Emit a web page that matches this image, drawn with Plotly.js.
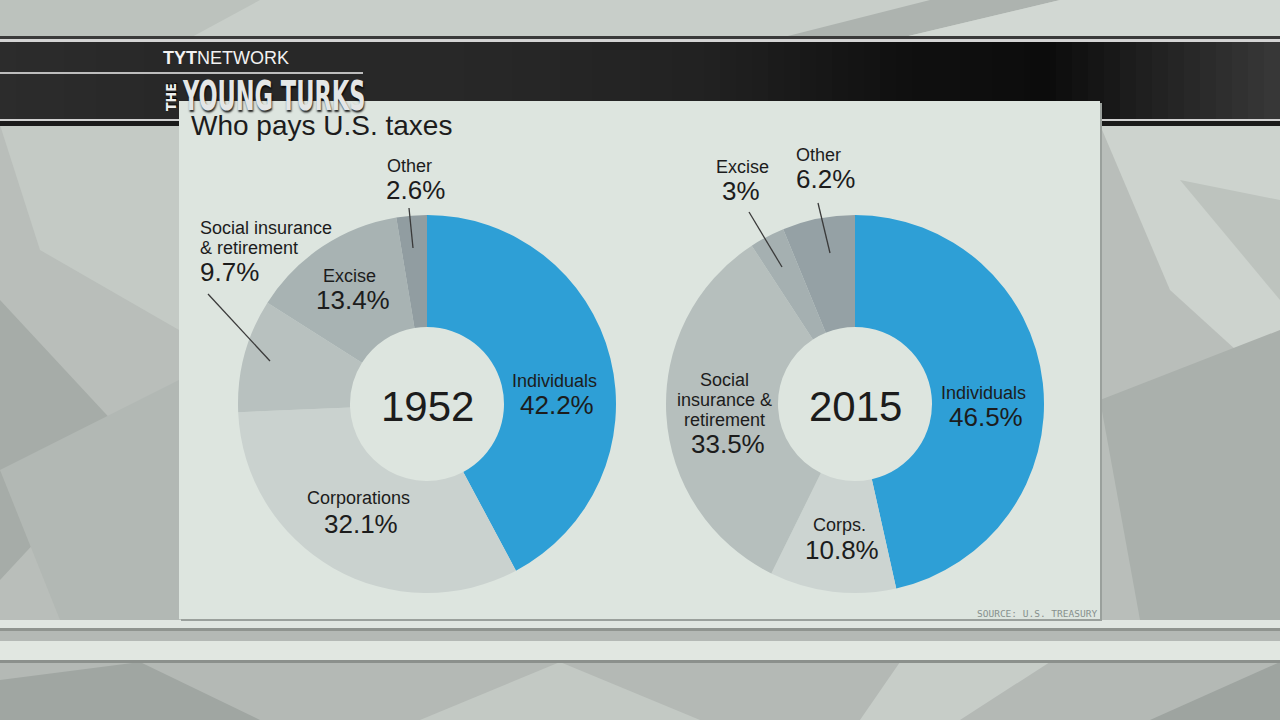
<!DOCTYPE html>
<html><head><meta charset="utf-8">
<script src="https://cdn.plot.ly/plotly-3.0.1.min.js"></script>
<style>html,body{margin:0;padding:0;background:#b9beba;}#chart{width:1280px;height:720px;}</style>
</head><body><div id="chart"></div>
<script>
// ---------------- DATA ----------------
const chartTitle = 'Who pays U.S. taxes';
const years = ['1952', '2015'];
const categories1952 = ['Individuals', 'Corporations', 'Social insurance & retirement', 'Excise', 'Other'];
const values1952 = [42.2, 32.1, 9.7, 13.4, 2.6];
const labelLines1952 = [['Individuals'], ['Corporations'], ['Social insurance', '& retirement'], ['Excise'], ['Other']];
const categories2015 = ['Individuals', 'Corps.', 'Social insurance & retirement', 'Excise', 'Other'];
const values2015 = [46.5, 10.8, 33.5, 3, 6.2];
const labelLines2015 = [['Individuals'], ['Corps.'], ['Social', 'insurance &', 'retirement'], ['Excise'], ['Other']];
const sourceText = 'SOURCE: U.S. TREASURY';

// ---------------- STYLE / LAYOUT ----------------
const W = 1280, H = 720;
const FONT = '"Liberation Sans", Arial, Helvetica, sans-serif';
const COND = '"DejaVu Sans Condensed", "Liberation Sans Narrow", sans-serif';
const INK = '#1c1c1c';
const colors1952 = ['#2e9fd6', '#cad2cf', '#b8c1bf', '#a8b3b3', '#919da1'];
const colors2015 = ['#2e9fd6', '#ccd4d1', '#b6bfbd', '#a5b0b1', '#95a1a5'];
const px = x => x / W;
const py = y => 1 - y / H;

const pies = [
  {cx: 427, cy: 404, r: 189},
  {cx: 855, cy: 404, r: 189}
];
const holeFrac = 77 / 189;

// label placement (pixels): [nameX, nameY(first line), valueX, valueY, anchor]
const place1952 = [
  [554, 381, 557, 405, 'center'],
  [358, 498, 361, 524, 'center'],
  [198, 228, 198, 272, 'left'],
  [349, 276, 353, 300, 'center'],
  [409, 166, 415, 190, 'center']
];
const place2015 = [
  [983, 393, 986, 417, 'center'],
  [839, 525, 842, 550, 'center'],
  [724, 380, 728, 444, 'center'],
  [742, 167, 741, 191, 'center'],
  [818, 155, 825, 179, 'center']
];
const leaders = [
  [409, 208, 413, 248],
  [208, 294, 270, 361],
  [749, 212, 782, 267],
  [818, 203, 830, 253]
];

function pieTrace(cats, vals, cols, g) {
  return {
    type: 'pie', labels: cats, values: vals, sort: false, direction: 'clockwise', rotation: 0,
    hole: holeFrac, textinfo: 'none', hoverinfo: 'none', showlegend: false,
    marker: {colors: cols, line: {width: 0}},
    domain: {x: [px(g.cx - g.r), px(g.cx + g.r)], y: [py(g.cy + g.r), py(g.cy - g.r)]}
  };
}

function ann(x, y, text, size, extra) {
  return Object.assign({
    xref: 'paper', yref: 'paper', x: px(x), y: py(y), text: text, showarrow: false,
    font: {family: FONT, size: size, color: INK}, xanchor: 'center', yanchor: 'middle'
  }, extra || {});
}

const annotations = [];
function addLabels(lines, vals, place) {
  lines.forEach((ls, i) => {
    const p = place[i];
    ls.forEach((t, k) => annotations.push(ann(p[0], p[1] + k * 20, t, 18, {xanchor: p[4]})));
    annotations.push(ann(p[2], p[3], String(vals[i]) + '%', 26, {xanchor: p[4]}));
  });
}
addLabels(labelLines1952, values1952, place1952);
addLabels(labelLines2015, values2015, place2015);
annotations.push(ann(pies[0].cx, pies[0].cy + 2, years[0], 42));
annotations.push(ann(pies[1].cx, pies[1].cy + 2, years[1], 42));
annotations.push(ann(189, 125, chartTitle, 28, {xanchor: 'left'}));
annotations.push(ann(1099, 613, sourceText, 9.5, {xanchor: 'right', font: {family: '"DejaVu Sans Mono", monospace', size: 9.5, color: '#87908d'}}));
// branding
annotations.push(ann(161, 58, '<b>TYT</b>NETWORK', 18, {xanchor: 'left', font: {family: FONT, size: 18, color: '#f2f2f2'}}));
annotations.push(ann(171, 97, 'THE', 14, {textangle: -90, font: {family: COND, size: 14, weight: 'bold', color: '#eeeeee', shadow: '1px 1px 1px #000'}}));
annotations.push(ann(180, 97, 'YOUNG TURKS', 25, {xanchor: 'left', font: {family: COND, size: 25, weight: 'bold', color: '#e4e6e6', shadow: '1px 2px 2px rgba(0,0,0,0.85)'}}));

// shapes
const shapes = [];
function rect(x0, y0, x1, y1, color, extra) {
  shapes.push(Object.assign({type: 'rect', xref: 'paper', yref: 'paper', x0: px(x0), x1: px(x1), y0: py(y1), y1: py(y0),
    fillcolor: color, line: {width: 0}, layer: 'below'}, extra || {}));
}
function poly(pts, color, op) {
  const d = 'M' + pts.map(p => px(p[0]) + ',' + py(p[1])).join('L') + 'Z';
  shapes.push({type: 'path', xref: 'paper', yref: 'paper', path: d, fillcolor: color, opacity: op || 1, line: {width: 0}, layer: 'below'});
}
// background shards
rect(0, 0, 1280, 38, '#c8cec9');
poly([[0,0],[260,0],[190,38],[0,38]], '#bcc2bd');
poly([[780,38],[930,0],[1060,0],[900,38]], '#adb3af');
poly([[900,38],[1060,0],[1280,0],[1280,38]], '#d2d8d3');
poly([[0,125],[179,125],[179,330],[40,250]], '#c4cac5');
poly([[0,300],[130,440],[0,580]], '#a6aca8');
poly([[0,470],[179,380],[179,620],[60,620]], '#b2b8b4');
poly([[1100,125],[1280,125],[1280,390],[1170,290]], '#cdd3ce');
poly([[1100,400],[1280,330],[1280,620],[1140,620]], '#aab0ac');
poly([[1180,180],[1280,200],[1280,300]], '#bdc3be');
rect(0, 662, 1280, 720, '#b4b9b5');
poly([[0,680],[140,662],[260,720],[0,720]], '#a0a6a2');
poly([[420,720],[560,662],[700,720]], '#c3c9c4');
poly([[1150,720],[1280,662],[1280,720]], '#9ea4a0');
poly([[900,662],[1050,662],[960,720],[860,720]], '#c7cdc8');
// top band with horizontal gradient (strips)
const bandStops = [[0, 44], [160, 40], [450, 40], [700, 34], [900, 16], [1050, 12], [1160, 34], [1280, 56]];
function bandGray(x) {
  for (let i = 1; i < bandStops.length; i++) {
    if (x <= bandStops[i][0]) {
      const a = bandStops[i - 1], b = bandStops[i];
      return a[1] + (b[1] - a[1]) * (x - a[0]) / (b[0] - a[0]);
    }
  }
  return bandStops[bandStops.length - 1][1];
}
rect(0, 36, 1280, 39, '#3a3a3a');
rect(0, 39, 1280, 42, '#d4d4d4');
for (let x = 0; x < 1280; x += 16) {
  const g = Math.round(bandGray(x + 8));
  rect(x, 42, x + 17, 119, `rgb(${g},${g},${g})`);
}
rect(0, 72, 363, 74, '#bdbdbd');
rect(0, 119, 1280, 121, '#d0d0d0');
rect(0, 121, 1280, 126, '#1a1a1a');
// bottom strips
rect(0, 620, 1280, 628, '#e0e6e1');
rect(0, 628, 1280, 631, '#8f948f');
rect(0, 631, 1280, 641, '#b4b9b5');
rect(0, 641, 1280, 660, '#e1e7e1');
rect(0, 660, 1280, 663, '#8b908c');
// panel
rect(181, 103, 1102, 621, '#9aa09c');
rect(179, 101, 1100, 619, '#dde5df');
// leader lines
leaders.forEach(l => shapes.push({type: 'line', xref: 'paper', yref: 'paper', x0: px(l[0]), y0: py(l[1]), x1: px(l[2]), y1: py(l[3]),
  line: {color: '#3a3a3a', width: 1.3}, layer: 'above'}));

const data = [
  pieTrace(categories1952, values1952, colors1952, pies[0]),
  pieTrace(categories2015, values2015, colors2015, pies[1])
];
const layout = {
  width: W, height: H, margin: {l: 0, r: 0, t: 0, b: 0},
  paper_bgcolor: '#b9beba', plot_bgcolor: 'rgba(0,0,0,0)',
  showlegend: false, shapes: shapes, annotations: annotations
};
Plotly.newPlot('chart', data, layout, {staticPlot: true, displayModeBar: false}).then(() => {
  // tall, condensed look for the brand wordmark
  document.querySelectorAll('.annotation-text').forEach(t => {
    if (t.textContent === 'YOUNG TURKS') {
      const b = t.getBBox();
      const cx = b.x, cy = b.y + b.height / 2;
      t.setAttribute('transform', `translate(${cx},${cy}) scale(1,1.6) translate(${-cx},${-cy})`);
    }
  });
});
</script></body></html>
